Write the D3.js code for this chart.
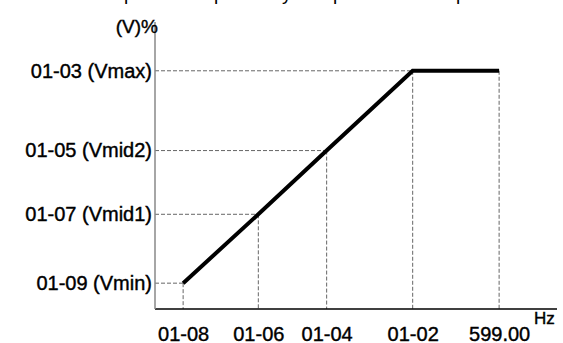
<!DOCTYPE html>
<html>
<head>
<meta charset="utf-8">
<script src="https://cdn.jsdelivr.net/npm/d3@7"></script>
<style>
	body { margin: 0; background: #fff; }
	svg { display: block; }
	text { font-family: "Liberation Sans", Arial, sans-serif; fill: #000; }
</style>
</head>
<body>
<div id="chart"></div>
<script>
(function (){
	"use strict";

// V/F curve points (x in % of axis, y in % of axis)
var freqLabels = ["01-08", "01-06", "01-04", "01-02", "599.00"],
	freqValues = [7.0, 25.7, 42.7, 64.1, 85.6];
var voltLabels = ["01-09 (Vmin)", "01-07 (Vmid1)", "01-05 (Vmid2)", "01-03 (Vmax)"],
	voltValues = [9.0, 33.0, 55.2, 83.0];
// curve: Vmin@01-08, Vmid1@01-06, Vmid2@01-04, Vmax@01-02, Vmax@599.00
var curveF = [7.0, 25.7, 42.7, 64.1, 85.6],
	curveV = [9.0, 33.0, 55.2, 83.0, 83.0];
// descenders of a caption cut off at the top edge
var captionChars = ["p", "p", "y", "p", "p"],
	captionX = [124, 214, 282, 333, 456];

var width = 563,
	height = 343;

var x = d3.scaleLinear().domain([0, 100]).range([155, 557]);
var y = d3.scaleLinear().domain([0, 100]).range([309, 22]);

var svg = d3.select("#chart").append("svg")
	.attr("width", width)
	.attr("height", height);

// cut-off caption
svg.append("g").selectAll("text").data(captionChars)
	.enter().append("text")
		.attr("x", function(d, i){ return captionX[i]; })
		.attr("y", -0.5)
		.style("font-size", "19px")
		.text(function(d){ return d; });

// dashed guides
var guides = svg.append("g")
	.attr("stroke", "#666")
	.attr("stroke-width", 1)
	.attr("stroke-dasharray", "4,2");

curveF.forEach(function(f, i){
	guides.append("line")
		.attr("x1", x(f)).attr("x2", x(f))
		.attr("y1", y(curveV[i])).attr("y2", y(0));
});
voltValues.forEach(function(v, i){
	guides.append("line")
		.attr("x1", x(0)).attr("x2", x(curveF[i]))
		.attr("y1", y(v)).attr("y2", y(v));
});

// axes
var xAxis = d3.axisBottom(x)
	.tickValues(freqValues)
	.tickFormat(function(d, i){ return freqLabels[i]; })
	.tickSize(0)
	.tickPadding(21);

var yAxis = d3.axisLeft(y)
	.tickValues(voltValues)
	.tickFormat(function(d, i){ return voltLabels[i]; })
	.tickSize(0)
	.tickPadding(3);

var gx = svg.append("g")
	.attr("transform", "translate(0," + y(0) + ")")
	.call(xAxis);
gx.select(".domain").attr("stroke", "#000").attr("stroke-width", 1.5).attr("d", "M" + x(0) + ",0H" + x(100));
gx.selectAll("text")
	.style("font-size", "20px")
	.style("font-family", "Liberation Sans, Arial, sans-serif")
	.attr("fill", "#000")
	.attr("stroke", "#000").attr("stroke-width", 0.4)
	.attr("dy", "0.55em");

var gy = svg.append("g")
	.attr("transform", "translate(" + x(0) + ",0)")
	.call(yAxis);
gy.select(".domain").attr("stroke", "#888").attr("stroke-width", 1.5).attr("d", "M0," + y(100) + "V" + y(0));
gy.selectAll("text")
	.style("font-size", "20px")
	.style("font-family", "Liberation Sans, Arial, sans-serif")
	.attr("fill", "#000")
	.attr("stroke", "#000").attr("stroke-width", 0.4);

// axis names
svg.append("text")
	.attr("x", x(0) + 3)
	.attr("y", 33)
	.attr("text-anchor", "end")
	.style("font-size", "19px")
	.attr("stroke", "#000").attr("stroke-width", 0.4)
	.text("(V)%");

svg.append("text")
	.attr("x", 534)
	.attr("y", 324)
	.style("font-size", "17px")
	.attr("stroke", "#000").attr("stroke-width", 0.4)
	.text("Hz");

// V/F curve
var line = d3.line()
	.x(function(d){ return x(d[0]); })
	.y(function(d){ return y(d[1]); });

svg.append("path")
	.datum(d3.zip(curveF, curveV))
	.attr("d", line)
	.attr("fill", "none")
	.attr("stroke", "#000")
	.attr("stroke-width", 4);

})();
</script>
</body>
</html>
